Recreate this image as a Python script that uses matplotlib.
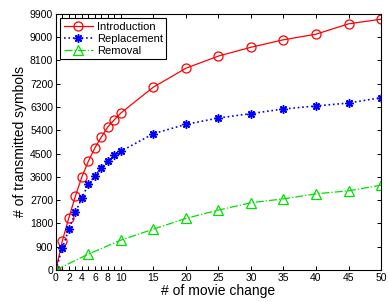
import numpy as np
import matplotlib.pyplot as plt
import matplotlib as mpl

mpl.rcParams.update({
    "font.family": "Liberation Sans",
    "font.size": 8,
    "xtick.direction": "in",
    "ytick.direction": "in",
    "xtick.top": True,
    "ytick.right": True,
})

x_main = [0, 1, 2, 3, 4, 5, 6, 7, 8, 9, 10, 15, 20, 25, 30, 35, 40, 45, 50]
introduction = [0, 1130, 2020, 2855, 3600, 4205, 4720, 5140, 5530, 5810, 6070,
                7070, 7800, 8270, 8610, 8900, 9115, 9515, 9695]
replacement = [0, 860, 1570, 2225, 2790, 3305, 3640, 3960, 4215, 4435, 4590,
               5270, 5630, 5875, 6045, 6225, 6340, 6455, 6660]
x_removal = [0, 5, 10, 15, 20, 25, 30, 35, 40, 45, 50]
removal = [0, 615, 1155, 1580, 1995, 2315, 2600, 2750, 2945, 3060, 3280]

xticks = list(range(0, 11)) + [15, 20, 25, 30, 35, 40, 45, 50]
xticklabels = [str(t) if (t > 10 or t % 2 == 0) else "" for t in xticks]
yticks = np.arange(0, 9901, 900)

fig = plt.figure(figsize=(3.88, 3.02), dpi=100)
ax = fig.add_axes([0.144, 0.106, 0.838, 0.848])

ax.plot(x_main, introduction, "-o", color="red", lw=0.9, ms=6.5,
        mfc="none", mew=0.9, label="Introduction")
# matlab-style asterisk marker
ax.plot(x_main, replacement, ":", marker=(8, 2, 0), color="blue", lw=1.2,
        ms=6, mew=1.1, label="Replacement")
ax.plot(x_removal, removal, "-.^", color="#00e000", lw=0.9, ms=6.5,
        mfc="none", mew=0.9, label="Removal")

ax.set_xlim(0, 50)
ax.set_ylim(0, 9900)
ax.set_xticks(xticks)
ax.set_xticklabels(xticklabels)
ax.set_yticks(yticks)
ax.tick_params(length=3, width=0.7, pad=2, labelsize=7.5)
for s in ax.spines.values():
    s.set_linewidth(0.8)

ax.set_xlabel("# of movie change", fontsize=10, labelpad=1)
ax.set_ylabel("# of transmitted symbols", fontsize=10, labelpad=2)

leg = ax.legend(loc="upper left", fontsize=8, fancybox=False,
                edgecolor="black", framealpha=1, borderaxespad=0.4,
                handlelength=2.6, handletextpad=0.4, borderpad=0.3,
                labelspacing=0.2)
leg.get_frame().set_linewidth(0.8)

fig.savefig("out.png", dpi=100)
